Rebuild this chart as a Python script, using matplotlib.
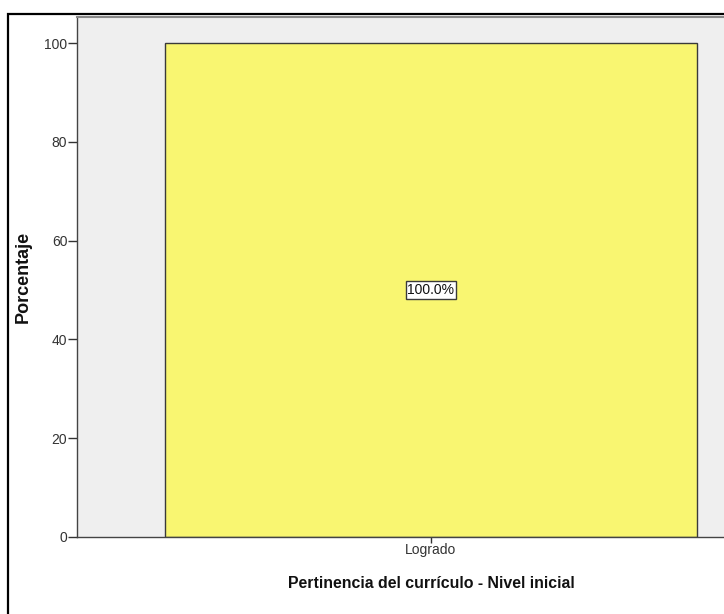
import matplotlib
matplotlib.use("Agg")
import matplotlib.pyplot as plt
from matplotlib.patches import Rectangle

# Datos
categorias = ["Logrado"]
porcentajes = [100.0]
etiquetas = ["100.0%"]
yticks = [0, 20, 40, 60, 80, 100]

plt.rcParams["font.family"] = ["Liberation Sans", "DejaVu Sans"]

fig = plt.figure(figsize=(7.24, 6.14), dpi=100)
W, H = 724, 614

# Marco exterior negro (recortado por la derecha y abajo)
fig.patches.append(Rectangle((8 / W, -0.1), 1.2, (614 - 14) / H + 0.1,
                             transform=fig.transFigure, fill=False,
                             edgecolor="black", linewidth=1.6, zorder=0))

# Área del gráfico (se sale por la derecha como en el original)
ax = fig.add_axes([77 / W, (H - 537) / H, 708 / W, (537 - 17) / H])
ax.set_facecolor("#efefef")

x = list(range(len(categorias)))
bars = ax.bar(x, porcentajes, width=0.751, color="#f9f671",
              edgecolor="#3a3a3a", linewidth=1.0, zorder=2)

for b, txt in zip(bars, etiquetas):
    ax.text(b.get_x() + b.get_width() / 2, b.get_height() / 2, txt,
            ha="center", va="center", fontsize=10, zorder=3,
            color="#111111",
            bbox=dict(boxstyle="square,pad=0.12", facecolor="white",
                      edgecolor="#3a3a3a", linewidth=1.0))

ax.set_xlim(-0.5, 0.5)
ax.set_ylim(0, 105.3)
ax.set_yticks(yticks)
ax.set_yticklabels([str(v) for v in yticks])
ax.set_xticks(x)
ax.set_xticklabels(categorias)
ax.tick_params(axis="y", labelsize=10, length=6.5, width=1.0,
               color="#333333", labelcolor="#333333", pad=0.5)
ax.tick_params(axis="x", labelsize=10, length=4, width=1.0,
               color="#333333", labelcolor="#333333", pad=0.5)

for s in ["left", "bottom"]:
    ax.spines[s].set_color("#444444")
    ax.spines[s].set_linewidth(1.0)
ax.spines["top"].set_color("#888888")
ax.spines["top"].set_linewidth(1.5)
ax.spines["right"].set_visible(False)

fig.text(23 / W, 1 - 277 / H, "Porcentaje", rotation=90,
         ha="center", va="center", fontsize=13, fontweight="bold",
         color="#111111")
fig.text(431 / W, 1 - 583 / H, "Pertinencia del currículo - Nivel inicial",
         ha="center", va="center", fontsize=11.4, fontweight="bold",
         color="#111111")

fig.savefig("out.png", dpi=100)
